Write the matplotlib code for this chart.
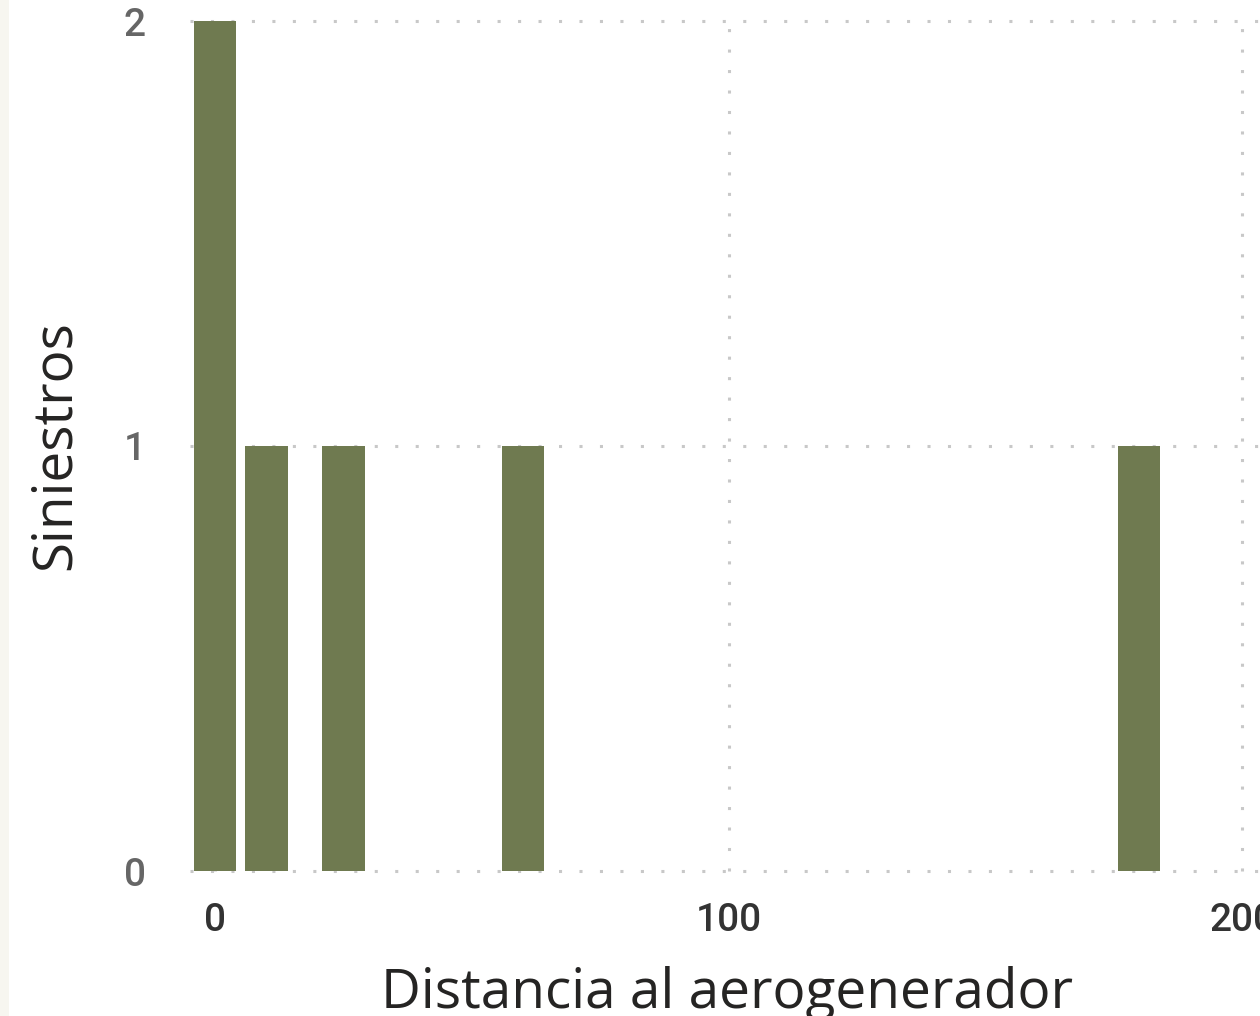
import matplotlib
matplotlib.use("Agg")
import matplotlib.pyplot as plt
from matplotlib.patches import Rectangle

# Data
distancia = [0, 10, 25, 60, 180]
siniestros = [2, 1, 1, 1, 1]
x_ticks = [0, 100, 200]
x_tick_labels = ["0", "100", "200"]
y_ticks = [0, 1, 2]
y_tick_labels = ["0", "1", "2"]

W, H = 1260, 1016
fig = plt.figure(figsize=(W / 100, H / 100), dpi=100)
fig.patch.set_facecolor("white")
fig.patches.append(Rectangle((0, 0), 9 / W, 1, transform=fig.transFigure,
                             facecolor="#f7f6f0", edgecolor="none", zorder=0))

ax = fig.add_axes([190 / W, (H - 871) / H, (W - 190) / W, 850 / H])
ax.set_facecolor("none")

ax.bar(distancia, siniestros, width=8.2, color="#6f7a50", zorder=3)

ax.set_xlim(-4.9, 203.5)
ax.set_ylim(0, 2)

grid_kw = dict(color="#c8c8c8", linewidth=2.2, linestyle=(0, (1, 5.7)), zorder=1, clip_on=False)
for yv in y_ticks:
    ax.axhline(yv, **grid_kw)
for xv in x_ticks:
    ax.axvline(xv, **grid_kw)

for s in ax.spines.values():
    s.set_visible(False)

ax.set_xticks(x_ticks)
ax.set_xticklabels(x_tick_labels, family="Roboto", fontsize=28, fontweight="medium",
                   color="#333333")
ax.set_yticks(y_ticks)
ax.set_yticklabels(y_tick_labels, family="Roboto", fontsize=28, fontweight="medium",
                   color="#666666")
ax.tick_params(axis="x", length=0, pad=22)
ax.tick_params(axis="y", length=0, pad=32)

fig.text(727.5 / W, 1 - 1008 / H, "Distancia al aerogenerador", family="Open Sans",
         fontsize=39.6, color="#252423", ha="center", va="baseline")
fig.text(55 / W, 1 - 445 / H, "Siniestros", family="Open Sans", fontsize=39.5,
         color="#252423", ha="center", va="center", rotation=90)

fig.savefig("out.png", dpi=100)
